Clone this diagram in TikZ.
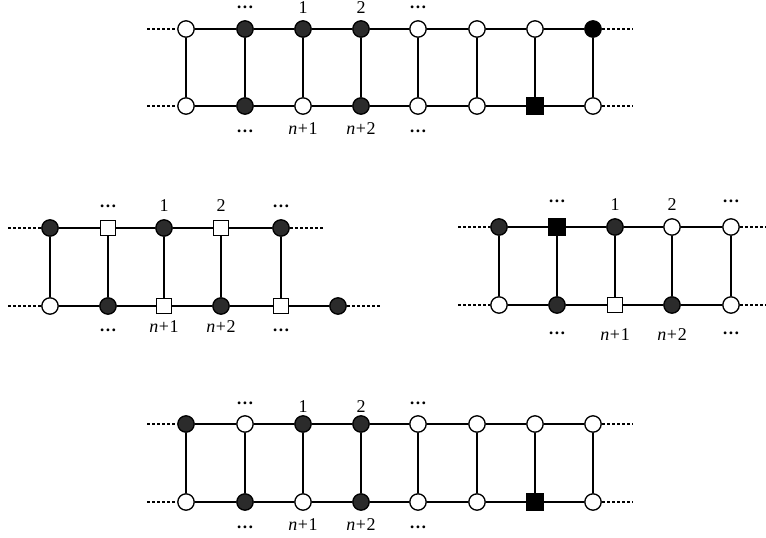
\documentclass[tikz,border=0pt]{standalone}
\usepackage{fontspec}
\setmainfont{Liberation Serif}
\begin{document}
\begin{tikzpicture}[x=0.75pt,y=-0.75pt,
  every node/.style={inner sep=0pt},
  vtx/.style={draw=black,line width=1pt,circle,minimum size=12.3pt},
  wc/.style={vtx,fill=white},
  dc/.style={vtx,fill=black!83},
  bc/.style={vtx,fill=black},
  sqr/.style={draw=black,line width=1pt,rectangle},
  ws/.style={sqr,fill=white,minimum size=11.2pt},
  bs/.style={sqr,fill=black,minimum size=12.3pt},
  edge/.style={line width=1pt},
  ext/.style={line width=0.8pt,dash pattern=on 2.2pt off 1.6pt},
  lbl/.style={anchor=base,font=\fontsize{13.5}{15}\selectfont},
  dts/.style={anchor=base,text height=2pt,text depth=0pt,font=\fontsize{13}{15}\selectfont\bfseries}]
\useasboundingbox (0,0) rectangle (766,537);
\newcommand{\nn}[1]{\textit{n}\kern0.5pt+\kern0.5pt#1}
\newcommand{\dd}{…}

% ---------- ladder A (top) ----------
\foreach \x/\s [count=\i] in {186/wc,245/dc,303/dc,361/dc,418/wc,477/wc,535/wc,593/bc}
  \node[\s] (At\i) at (\x,29) {};
\foreach \x/\s [count=\i] in {186/wc,245/dc,303/wc,361/dc,418/wc,477/wc,535/bs,593/wc}
  \node[\s] (Ab\i) at (\x,106) {};
\foreach \i in {1,...,7}{
  \pgfmathtruncatemacro\j{\i+1}
  \draw[edge] (At\i) -- (At\j);
  \draw[edge] (Ab\i) -- (Ab\j);}
\foreach \i in {1,...,8} \draw[edge] (At\i) -- (Ab\i);
\coordinate (AtL) at (147,29); \coordinate (AbL) at (147,106);
\coordinate (AtR) at (633,29); \coordinate (AbR) at (633,106);
\draw[ext] (AtL) -- (At1); \draw[ext] (AbL) -- (Ab1);
\draw[ext] (At8) -- (AtR); \draw[ext] (Ab8) -- (AbR);
\node[dts] (Ad1) at (245,8) {\dd};
\node[lbl] (Al1) at (303,13.5) {1};
\node[lbl] (Al2) at (361,13.5) {2};
\node[dts] (Ad2) at (418,8) {\dd};
\node[dts] (Ad3) at (245,132) {\dd};
\node[lbl] (Al3) at (303,134) {\nn1};
\node[lbl] (Al4) at (361,134) {\nn2};
\node[dts] (Ad4) at (418,132) {\dd};

% ---------- ladder B (middle left) ----------
\foreach \x/\s [count=\i] in {50/dc,108/ws,164/dc,221/ws,281/dc}
  \node[\s] (Bt\i) at (\x,228) {};
\foreach \x/\s [count=\i] in {50/wc,108/dc,164/ws,221/dc,281/ws,338/dc}
  \node[\s] (Bb\i) at (\x,306) {};
\foreach \i in {1,...,4}{
  \pgfmathtruncatemacro\j{\i+1}
  \draw[edge] (Bt\i) -- (Bt\j);}
\foreach \i in {1,...,5}{
  \pgfmathtruncatemacro\j{\i+1}
  \draw[edge] (Bb\i) -- (Bb\j);
  \draw[edge] (Bt\i) -- (Bb\i);}
\coordinate (BtL) at (8,228); \coordinate (BbL) at (8,306);
\coordinate (BtR) at (323,228); \coordinate (BbR) at (380,306);
\draw[ext] (BtL) -- (Bt1); \draw[ext] (BbL) -- (Bb1);
\draw[ext] (Bt5) -- (BtR); \draw[ext] (Bb6) -- (BbR);
\node[dts] (Bd1) at (108,207) {\dd};
\node[lbl] (Bl1) at (164,211) {1};
\node[lbl] (Bl2) at (221,211) {2};
\node[dts] (Bd2) at (281,207) {\dd};
\node[dts] (Bd3) at (108,331) {\dd};
\node[lbl] (Bl3) at (164,332) {\nn1};
\node[lbl] (Bl4) at (221,332) {\nn2};
\node[dts] (Bd4) at (281,331) {\dd};

% ---------- ladder C (middle right) ----------
\foreach \x/\s [count=\i] in {499/dc,557/bs,615/dc,672/wc,731/wc}
  \node[\s] (Ct\i) at (\x,227) {};
\foreach \x/\s [count=\i] in {499/wc,557/dc,615/ws,672/dc,731/wc}
  \node[\s] (Cb\i) at (\x,305) {};
\foreach \i in {1,...,4}{
  \pgfmathtruncatemacro\j{\i+1}
  \draw[edge] (Ct\i) -- (Ct\j);
  \draw[edge] (Cb\i) -- (Cb\j);}
\foreach \i in {1,...,5} \draw[edge] (Ct\i) -- (Cb\i);
\coordinate (CtL) at (458,227); \coordinate (CbL) at (458,305);
\coordinate (CtR) at (766,227); \coordinate (CbR) at (766,305);
\draw[ext] (CtL) -- (Ct1); \draw[ext] (CbL) -- (Cb1);
\draw[ext] (Ct5) -- (CtR); \draw[ext] (Cb5) -- (CbR);
\node[dts] (Cd1) at (557,202) {\dd};
\node[lbl] (Cl1) at (615,210) {1};
\node[lbl] (Cl2) at (672,210) {2};
\node[dts] (Cd2) at (731,202) {\dd};
\node[dts] (Cd3) at (557,334) {\dd};
\node[lbl] (Cl3) at (615,340) {\nn1};
\node[lbl] (Cl4) at (672,340) {\nn2};
\node[dts] (Cd4) at (731,334) {\dd};

% ---------- ladder D (bottom) ----------
\foreach \x/\s [count=\i] in {186/dc,245/wc,303/dc,361/dc,418/wc,477/wc,535/wc,593/wc}
  \node[\s] (Dt\i) at (\x,424) {};
\foreach \x/\s [count=\i] in {186/wc,245/dc,303/wc,361/dc,418/wc,477/wc,535/bs,593/wc}
  \node[\s] (Db\i) at (\x,502) {};
\foreach \i in {1,...,7}{
  \pgfmathtruncatemacro\j{\i+1}
  \draw[edge] (Dt\i) -- (Dt\j);
  \draw[edge] (Db\i) -- (Db\j);}
\foreach \i in {1,...,8} \draw[edge] (Dt\i) -- (Db\i);
\coordinate (DtL) at (147,424); \coordinate (DbL) at (147,502);
\coordinate (DtR) at (633,424); \coordinate (DbR) at (633,502);
\draw[ext] (DtL) -- (Dt1); \draw[ext] (DbL) -- (Db1);
\draw[ext] (Dt8) -- (DtR); \draw[ext] (Db8) -- (DbR);
\node[dts] (Dd1) at (245,404) {\dd};
\node[lbl] (Dl1) at (303,412) {1};
\node[lbl] (Dl2) at (361,412) {2};
\node[dts] (Dd2) at (418,404) {\dd};
\node[dts] (Dd3) at (245,528) {\dd};
\node[lbl] (Dl3) at (303,530) {\nn1};
\node[lbl] (Dl4) at (361,530) {\nn2};
\node[dts] (Dd4) at (418,528) {\dd};
\end{tikzpicture}
\end{document}
